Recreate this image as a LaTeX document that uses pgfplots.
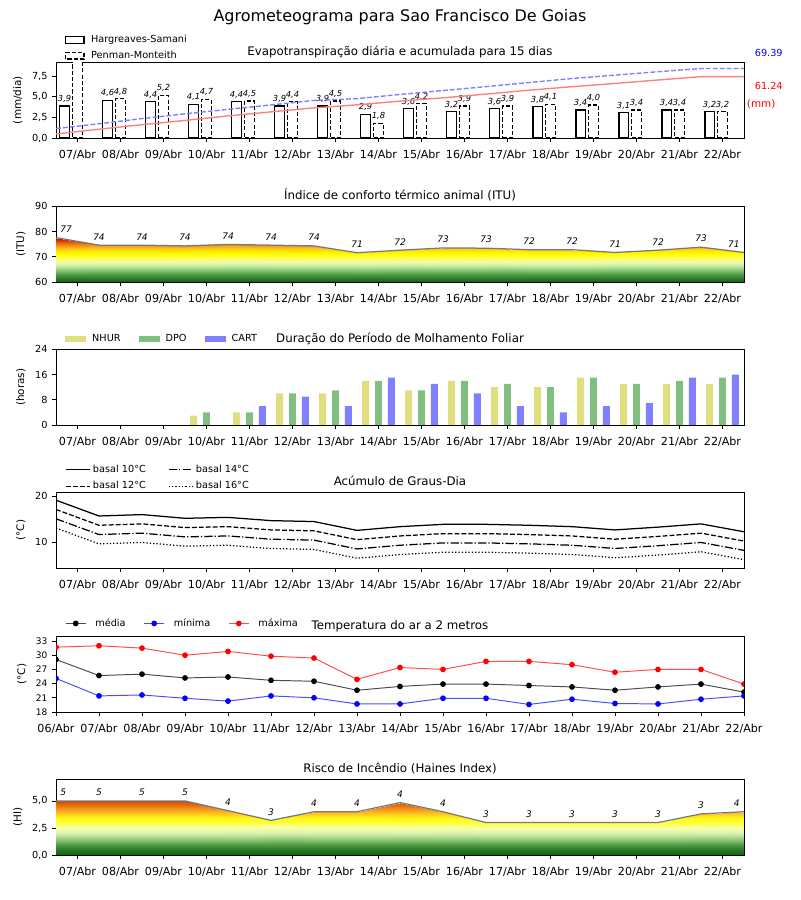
\documentclass[border=0pt]{standalone}
\usepackage{fontspec}
\setmainfont{DejaVu Sans}
\usepackage{pgfplots}
\pgfplotsset{compat=1.18}

\definecolor{hsred}{RGB}{255,128,128}
\definecolor{pmblue}{RGB}{128,128,255}
\definecolor{nhur}{RGB}{223,223,128}
\definecolor{dpo}{RGB}{128,191,128}
\definecolor{cart}{RGB}{128,128,255}
\definecolor{curve}{RGB}{120,120,120}

\newcommand{\fs}[1]{\fontsize{#1}{#1}\selectfont}

\tikzset{
  lbl/.style={font=\fs{6}\itshape, inner sep=0pt, anchor=south, yshift=2pt},
  lblb/.style={font=\fs{6.5}\itshape, inner sep=0pt, anchor=south, yshift=3.5pt},
}

\pgfplotsset{
  panel/.style={
    scale only axis, width=495.36pt, height=54.5pt, anchor=south west,
    xmin=-0.5, xmax=15.5,
    tick align=outside, xtick pos=left, ytick pos=left,
    major tick length=2.6pt,
    every tick/.style={black, line width=0.6pt},
    axis line style={line width=0.7pt},
    xticklabel style={font=\fs{8}, yshift=-2.8pt},
    yticklabel style={font=\fs{7}},
    /pgf/number format/assume math mode=true,
    title style={font=\fs{8.5}, anchor=base, yshift=-1pt},
    ylabel style={font=\fs{7.5}},
    legend style={draw=none, fill=none, font=\fs{7}, inner sep=0pt},
    legend cell align=left,
  },
  days/.style={xtick={0,...,15},
    xticklabels={07/Abr,08/Abr,09/Abr,10/Abr,11/Abr,12/Abr,13/Abr,14/Abr,15/Abr,16/Abr,17/Abr,18/Abr,19/Abr,20/Abr,21/Abr,22/Abr}},
}

\begin{document}
\begin{tikzpicture}
\useasboundingbox (0,0) rectangle (576pt,648pt);
\node[font=\fs{11.5}] at (288pt,635.8pt) {Agrometeograma para Sao Francisco De Goias};

% ---------------- evapotranspiracao
\begin{axis}[panel, days, at={(40.32pt,548.64pt)},
  ymin=0, ymax=9.2, ytick={0,2.5,5,7.5},
  yticklabel style={/pgf/number format/.cd, use comma, fixed, fixed zerofill, precision=1},
  ylabel={(mm/dia)},
  title={Evapotranspiração diária e acumulada para 15 dias},
  legend style={at={(0.013,1.19)}, anchor=west, row sep=0.5pt},
]
\addplot[ybar, bar width=0.22, bar shift=0pt, draw=black, fill=white, line width=0.9pt, forget plot,
  nodes near coords, nodes near coords style={lbl, /pgf/number format/.cd, use comma, fixed, fixed zerofill, precision=1}]
  coordinates {(-0.3,3.9) (0.7,4.6) (1.7,4.4) (2.7,4.1) (3.7,4.4) (4.7,3.9) (5.7,3.9) (6.7,2.9)
               (7.7,3.6) (8.7,3.2) (9.7,3.6) (10.7,3.8) (11.7,3.4) (12.7,3.1) (13.7,3.4) (14.7,3.2)};
\addplot[ybar, bar width=0.22, bar shift=0pt, draw=black, fill=white, line width=0.9pt,
  dash pattern=on 3pt off 1.5pt, forget plot]
  coordinates {(0,9.4)};
\addplot[ybar, bar width=0.22, bar shift=0pt, draw=black, fill=white, line width=0.9pt,
  dash pattern=on 3pt off 1.5pt, forget plot,
  nodes near coords, nodes near coords style={lbl, solid, /pgf/number format/.cd, use comma, fixed, fixed zerofill, precision=1}]
  coordinates {(1,4.8) (2,5.2) (3,4.7) (4,4.5) (5,4.4) (6,4.5) (7,1.8)
               (8,4.2) (9,3.9) (10,3.9) (11,4.1) (12,4.0) (13,3.4) (14,3.4) (15,3.2)};
\addlegendimage{legend image code/.code={\draw[black, line width=0.9pt, fill=white] (0pt,-2.4pt) rectangle (13pt,2.4pt); \path (16pt,0pt);}}
\addlegendentry{Hargreaves-Samani}
\addlegendimage{legend image code/.code={\draw[black, line width=0.9pt, fill=white, dash pattern=on 3pt off 1.5pt] (0pt,-2.4pt) rectangle (13pt,2.4pt); \path (16pt,0pt);}}
\addlegendentry{Penman-Monteith}
\end{axis}

\begin{axis}[scale only axis, width=495.36pt, height=54.5pt, anchor=south west, at={(40.32pt,548.64pt)},
  xmin=-0.5, xmax=15.5, ymin=0, ymax=75.6, hide axis, clip=false]
\addplot[pmblue, line width=1pt, dash pattern=on 3.5pt off 1.5pt] coordinates {
  (-0.5,9.4) (0.5,14.2) (1.5,19.4) (2.5,24.1) (3.5,28.6) (4.5,33.0) (5.5,37.5) (6.5,39.3)
  (7.5,43.5) (8.5,47.4) (9.5,51.3) (10.5,55.4) (11.5,59.4) (12.5,62.8) (13.5,66.2) (14.5,69.39) (15.5,69.39)};
\addplot[hsred, line width=1pt] coordinates {
  (-0.5,4.02) (0.5,8.76) (1.5,13.30) (2.5,17.53) (3.5,22.06) (4.5,26.08) (5.5,30.11) (6.5,33.10)
  (7.5,36.81) (8.5,40.11) (9.5,43.82) (10.5,47.74) (11.5,51.24) (12.5,54.44) (13.5,57.94) (14.5,61.24) (15.5,61.24)};
\node[blue, font=\fs{7}] at (rel axis cs:1.036,1.12) {69.39};
\node[red, font=\fs{7}] at (rel axis cs:1.036,0.693) {61.24};
\node[red, font=\fs{7.5}] at (rel axis cs:1.025,0.44) {(mm)};
\end{axis}

% ---------------- ITU
\begin{axis}[panel, days, at={(40.32pt,444.96pt)},
  ymin=60, ymax=90, ytick={60,70,80,90},
  ylabel={(ITU)}, title={Índice de conforto térmico animal (ITU)},
  colormap={itu}{rgb255(0pt)=(16,96,16) rgb255(15pt)=(45,125,45) rgb255(30pt)=(75,155,70)
    rgb255(50pt)=(145,205,125) rgb255(65pt)=(205,238,165) rgb255(80pt)=(238,252,175)
    rgb255(95pt)=(255,255,80) rgb255(110pt)=(255,255,0) rgb255(125pt)=(255,228,0)
    rgb255(135pt)=(250,190,30) rgb255(145pt)=(242,150,25) rgb255(155pt)=(232,110,10)
    rgb255(165pt)=(220,60,0) rgb255(175pt)=(205,5,0) rgb255(300pt)=(200,0,0)},
  point meta min=60, point meta max=90]
\addplot[surf, shader=interp, mesh/cols=17, point meta=y] coordinates {
  (-0.5,60) (0.5,60) (1.5,60) (2.5,60) (3.5,60) (4.5,60) (5.5,60) (6.5,60) (7.5,60)
  (8.5,60) (9.5,60) (10.5,60) (11.5,60) (12.5,60) (13.5,60) (14.5,60) (15.5,60)
  (-0.5,77.6) (0.5,74.6) (1.5,74.6) (2.5,74.3) (3.5,74.9) (4.5,74.6) (5.5,74.3) (6.5,71.6) (7.5,72.6)
  (8.5,73.5) (9.5,73.4) (10.5,72.8) (11.5,72.8) (12.5,71.7) (13.5,72.6) (14.5,73.8) (15.5,71.7)};
\addplot[curve, line width=0.9pt] coordinates {
  (-0.5,77.6) (0.5,74.6) (1.5,74.6) (2.5,74.3) (3.5,74.9) (4.5,74.6) (5.5,74.3) (6.5,71.6) (7.5,72.6)
  (8.5,73.5) (9.5,73.4) (10.5,72.8) (11.5,72.8) (12.5,71.7) (13.5,72.6) (14.5,73.8) (15.5,71.7)};
\addplot[draw=none, point meta=explicit symbolic, nodes near coords, nodes near coords style={lblb}] coordinates {
  (0.5,74.6)[74] (1.5,74.6)[74] (2.5,74.3)[74] (3.5,74.9)[74] (4.5,74.6)[74] (5.5,74.3)[74] (6.5,71.6)[71] (7.5,72.6)[72]
  (8.5,73.5)[73] (9.5,73.4)[73] (10.5,72.8)[72] (11.5,72.8)[72] (12.5,71.7)[71] (13.5,72.6)[72] (14.5,73.8)[73]};
\addplot[draw=none, point meta=explicit symbolic, nodes near coords, nodes near coords style={lblb, anchor=south west, xshift=3pt}] coordinates {(-0.5,77.6)[77]};
\addplot[draw=none, point meta=explicit symbolic, nodes near coords, nodes near coords style={lblb, anchor=south east, xshift=-3pt}] coordinates {(15.5,71.7)[71]};
\end{axis}

% ---------------- molhamento foliar
\begin{axis}[panel, days, at={(40.32pt,342pt)},
  ymin=0, ymax=24, ytick={0,8,16,24},
  ylabel={(horas)}, title={Duração do Período de Molhamento Foliar},
  legend columns=3,
  legend style={at={(0.013,1.14)}, anchor=west, /tikz/every even column/.append style={column sep=11pt}},
]
\addplot[ybar, bar width=0.16, bar shift=0pt, fill=nhur, draw=none, forget plot] coordinates {
  (2.7,3) (3.7,4) (4.7,10) (5.7,10) (6.7,14) (7.7,11) (8.7,14) (9.7,12) (10.7,12) (11.7,15) (12.7,13) (13.7,13) (14.7,13)};
\addplot[ybar, bar width=0.16, bar shift=0pt, fill=dpo, draw=none, forget plot] coordinates {
  (3,4) (4,4) (5,10) (6,11) (7,14) (8,11) (9,14) (10,13) (11,12) (12,15) (13,13) (14,14) (15,15)};
\addplot[ybar, bar width=0.16, bar shift=0pt, fill=cart, draw=none, forget plot] coordinates {
  (4.3,6) (5.3,9) (6.3,6) (7.3,15) (8.3,13) (9.3,10) (10.3,6) (11.3,4) (12.3,6) (13.3,7) (14.3,15) (15.3,16)};
\addlegendimage{legend image code/.code={\fill[nhur] (0pt,-2pt) rectangle (14.4pt,2pt); \path (17pt,0pt);}}
\addlegendentry{NHUR}
\addlegendimage{legend image code/.code={\fill[dpo] (0pt,-2pt) rectangle (14.4pt,2pt); \path (17pt,0pt);}}
\addlegendentry{DPO}
\addlegendimage{legend image code/.code={\fill[cart] (0pt,-2pt) rectangle (14.4pt,2pt); \path (17pt,0pt);}}
\addlegendentry{CART}
\end{axis}

% ---------------- graus-dia
\begin{axis}[panel, days, at={(40.32pt,239.04pt)},
  ymin=4.5, ymax=20.8, ytick={10,20},
  ylabel={(°C)}, title={Acúmulo de Graus-Dia},
  legend columns=2,
  legend style={at={(0.013,1.19)}, anchor=west, row sep=1pt, /tikz/every even column/.append style={column sep=14pt}},
]
\addplot[black, line width=0.9pt] coordinates {
  (-0.5,19.1) (0.5,15.7) (1.5,16.0) (2.5,15.2) (3.5,15.4) (4.5,14.7) (5.5,14.5) (6.5,12.6) (7.5,13.4)
  (8.5,13.9) (9.5,13.9) (10.5,13.7) (11.5,13.4) (12.5,12.7) (13.5,13.3) (14.5,14.0) (15.5,12.3)};
\addlegendentry{basal 10°C}
\addplot[black, line width=0.9pt, dash pattern=on 6pt off 1.5pt on 0.9pt off 1.5pt] coordinates {
  (-0.5,15.1) (0.5,11.7) (1.5,12.0) (2.5,11.2) (3.5,11.4) (4.5,10.7) (5.5,10.5) (6.5,8.6) (7.5,9.4)
  (8.5,9.9) (9.5,9.9) (10.5,9.7) (11.5,9.4) (12.5,8.7) (13.5,9.3) (14.5,10.0) (15.5,8.3)};
\addlegendentry{basal 14°C}
\addplot[black, line width=0.9pt, dash pattern=on 3.5pt off 1.5pt] coordinates {
  (-0.5,17.1) (0.5,13.7) (1.5,14.0) (2.5,13.2) (3.5,13.4) (4.5,12.7) (5.5,12.5) (6.5,10.6) (7.5,11.4)
  (8.5,11.9) (9.5,11.9) (10.5,11.7) (11.5,11.4) (12.5,10.7) (13.5,11.3) (14.5,12.0) (15.5,10.3)};
\addlegendentry{basal 12°C}
\addplot[black, line width=0.9pt, dash pattern=on 0.9pt off 1.5pt] coordinates {
  (-0.5,13.1) (0.5,9.7) (1.5,10.0) (2.5,9.2) (3.5,9.4) (4.5,8.7) (5.5,8.5) (6.5,6.6) (7.5,7.4)
  (8.5,7.9) (9.5,7.9) (10.5,7.7) (11.5,7.4) (12.5,6.7) (13.5,7.3) (14.5,8.0) (15.5,6.3)};
\addlegendentry{basal 16°C}
\end{axis}

% ---------------- temperatura
\begin{axis}[panel, at={(40.32pt,135.36pt)},
  xtick={-0.5,0.5,...,15.5},
  xticklabels={06/Abr,07/Abr,08/Abr,09/Abr,10/Abr,11/Abr,12/Abr,13/Abr,14/Abr,15/Abr,16/Abr,17/Abr,18/Abr,19/Abr,20/Abr,21/Abr,22/Abr},
  ymin=18, ymax=34, ytick={18,21,24,27,30,33},
  yticklabel style={font=\fs{6.5}},
  ylabel={(°C)}, title={Temperatura do ar a 2 metros},
  clip marker paths=true,
  legend columns=3,
  legend image code/.code={\draw[#1] (0pt,0pt) -- (14.4pt,0pt); \draw[#1, mark repeat=1] plot coordinates {(7.2pt,0pt)}; \path (19pt,0pt);},
  legend style={at={(0.013,1.17)}, anchor=west, /tikz/every even column/.append style={column sep=11pt}},
]
\addplot[black!70, line width=0.7pt, mark=*, mark size=1.7pt, mark options={black}] coordinates {
  (-0.5,29.1) (0.5,25.7) (1.5,26.0) (2.5,25.2) (3.5,25.4) (4.5,24.7) (5.5,24.5) (6.5,22.6) (7.5,23.4)
  (8.5,23.9) (9.5,23.9) (10.5,23.6) (11.5,23.3) (12.5,22.6) (13.5,23.3) (14.5,23.9) (15.5,22.2)};
\addlegendentry{média}
\addplot[blue!70, line width=0.7pt, mark=*, mark size=1.7pt, mark options={blue}] coordinates {
  (-0.5,25.1) (0.5,21.4) (1.5,21.6) (2.5,20.9) (3.5,20.3) (4.5,21.4) (5.5,21.0) (6.5,19.7) (7.5,19.7)
  (8.5,20.9) (9.5,20.9) (10.5,19.6) (11.5,20.7) (12.5,19.8) (13.5,19.7) (14.5,20.7) (15.5,21.4)};
\addlegendentry{mínima}
\addplot[red!70, line width=0.7pt, mark=*, mark size=1.7pt, mark options={red}] coordinates {
  (-0.5,31.7) (0.5,32.0) (1.5,31.5) (2.5,30.0) (3.5,30.8) (4.5,29.8) (5.5,29.4) (6.5,24.9) (7.5,27.4)
  (8.5,27.0) (9.5,28.7) (10.5,28.7) (11.5,28.0) (12.5,26.4) (13.5,27.0) (14.5,27.0) (15.5,23.9)};
\addlegendentry{máxima}
\end{axis}

% ---------------- Haines
\begin{axis}[panel, days, at={(40.32pt,32.4pt)},
  ymin=0, ymax=7, ytick={0,2.5,5},
  yticklabel style={/pgf/number format/.cd, use comma, fixed, fixed zerofill, precision=1},
  ylabel={(HI)}, title={Risco de Incêndio (Haines Index)},
  colormap={hi}{rgb255(0pt)=(16,96,16) rgb255(5pt)=(40,122,40) rgb255(10pt)=(85,158,75)
    rgb255(15pt)=(150,205,130) rgb255(20pt)=(215,240,170) rgb255(25pt)=(246,255,175)
    rgb255(30pt)=(255,255,60) rgb255(34pt)=(255,250,20) rgb255(38pt)=(255,205,30)
    rgb255(42pt)=(246,160,30) rgb255(46pt)=(232,112,15) rgb255(50pt)=(205,75,0) rgb255(70pt)=(190,45,0)},
  point meta min=0, point meta max=7]
\addplot[surf, shader=interp, mesh/cols=17, point meta=y] coordinates {
  (-0.5,0) (0.5,0) (1.5,0) (2.5,0) (3.5,0) (4.5,0) (5.5,0) (6.5,0) (7.5,0)
  (8.5,0) (9.5,0) (10.5,0) (11.5,0) (12.5,0) (13.5,0) (14.5,0) (15.5,0)
  (-0.5,5.0) (0.5,5.0) (1.5,5.0) (2.5,5.0) (3.5,4.1) (4.5,3.2) (5.5,4.0) (6.5,4.0) (7.5,4.85)
  (8.5,4.0) (9.5,3.0) (10.5,3.0) (11.5,3.0) (12.5,3.0) (13.5,3.0) (14.5,3.8) (15.5,4.0)};
\addplot[curve, line width=0.9pt] coordinates {
  (-0.5,5.0) (0.5,5.0) (1.5,5.0) (2.5,5.0) (3.5,4.1) (4.5,3.2) (5.5,4.0) (6.5,4.0) (7.5,4.85)
  (8.5,4.0) (9.5,3.0) (10.5,3.0) (11.5,3.0) (12.5,3.0) (13.5,3.0) (14.5,3.8) (15.5,4.0)};
\addplot[draw=none, point meta=explicit symbolic, nodes near coords, nodes near coords style={lblb}] coordinates {
  (0.5,5.0)[5] (1.5,5.0)[5] (2.5,5.0)[5] (3.5,4.1)[4] (4.5,3.2)[3] (5.5,4.0)[4] (6.5,4.0)[4] (7.5,4.85)[4]
  (8.5,4.0)[4] (9.5,3.0)[3] (10.5,3.0)[3] (11.5,3.0)[3] (12.5,3.0)[3] (13.5,3.0)[3] (14.5,3.8)[3]};
\addplot[draw=none, point meta=explicit symbolic, nodes near coords, nodes near coords style={lblb, anchor=south west, xshift=3pt}] coordinates {(-0.5,5.0)[5]};
\addplot[draw=none, point meta=explicit symbolic, nodes near coords, nodes near coords style={lblb, anchor=south east, xshift=-3pt}] coordinates {(15.5,4.0)[4]};
\end{axis}
\end{tikzpicture}
\end{document}
